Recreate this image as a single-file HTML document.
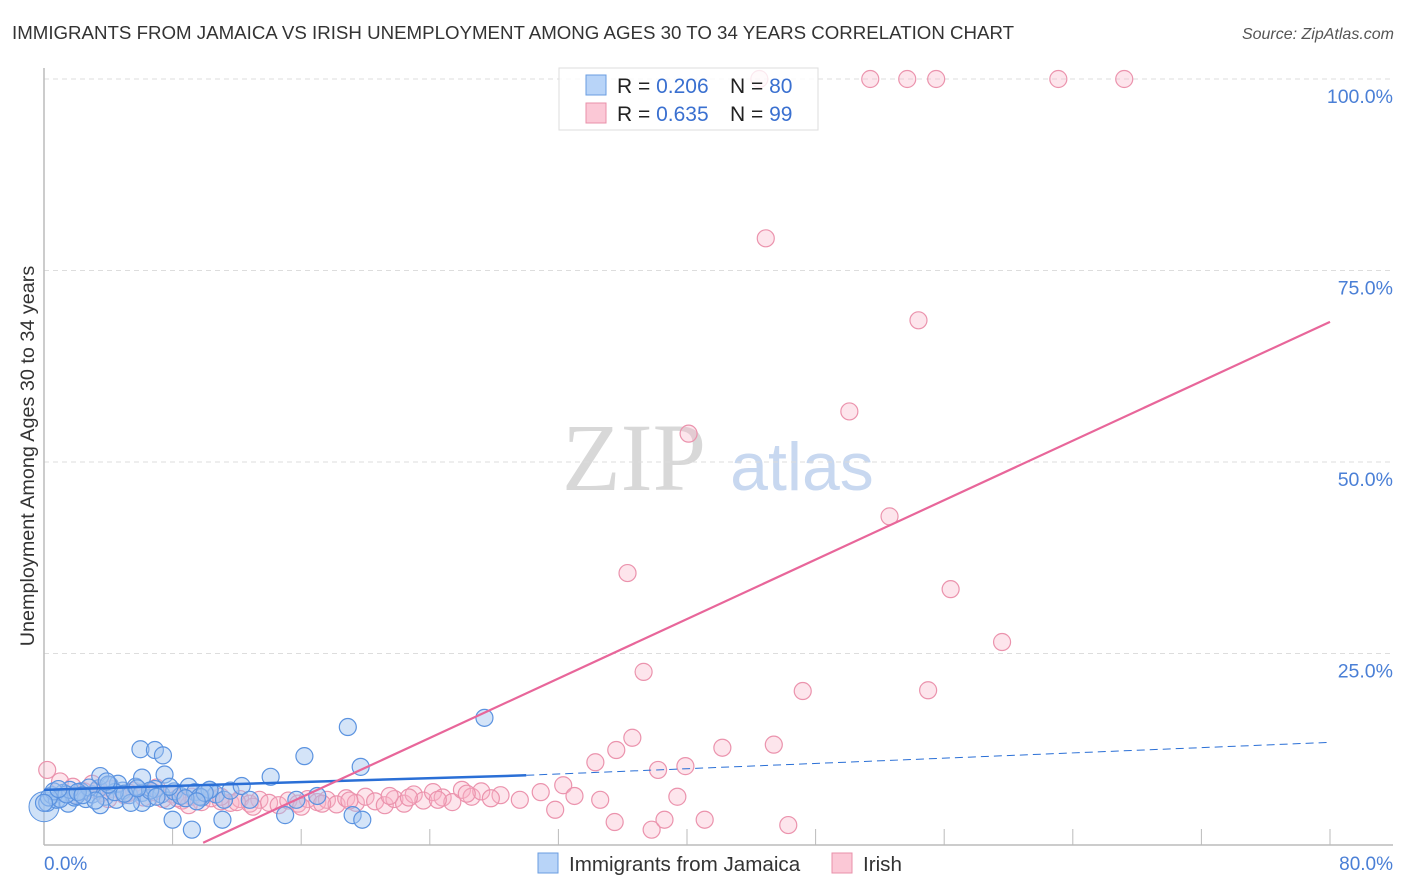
<!DOCTYPE html>
<html><head><meta charset="utf-8"><style>
body{margin:0;background:#fff;font-family:"Liberation Sans",sans-serif;}
svg{display:block}
</style></head><body>
<svg width="1406" height="892" id="c">
<text x="12" y="39" font-size="18.7" fill="#333">IMMIGRANTS FROM JAMAICA VS IRISH UNEMPLOYMENT AMONG AGES 30 TO 34 YEARS CORRELATION CHART</text>
<text x="1394" y="39" font-size="16" fill="#555" font-style="italic" text-anchor="end">Source: ZipAtlas.com</text>
<text x="634" y="490" font-size="96" fill="#d8d8d8" font-family="Liberation Serif,serif" text-anchor="middle">ZIP</text>
<text x="802" y="490" font-size="68" fill="#c8d8f0" text-anchor="middle">atlas</text>
<text transform="translate(34,456) rotate(-90)" font-size="19.8" fill="#333" text-anchor="middle">Unemployment Among Ages 30 to 34 years</text>
<g id="grid"></g><g id="pts"></g><g id="lines"></g>
<g>
<rect x="559" y="68" width="259" height="62" fill="rgba(255,255,255,0.8)" stroke="#ddd"/>
<rect x="586" y="75" width="20" height="20" fill="#b8d4f8" stroke="#6a9de0"/>
<rect x="586" y="103" width="20" height="20" fill="#fbc8d6" stroke="#e890aa"/>
<text x="617" y="93" font-size="21" fill="#222">R = <tspan fill="#3a70d0">0.206</tspan></text>
<text x="730" y="93" font-size="21" fill="#222">N = <tspan fill="#3a70d0">80</tspan></text>
<text x="617" y="121" font-size="21" fill="#222">R = <tspan fill="#3a70d0">0.635</tspan></text>
<text x="730" y="121" font-size="21" fill="#222">N = <tspan fill="#3a70d0">99</tspan></text>
</g>
<g>
<rect x="538" y="853" width="20" height="20" fill="#b8d4f8" stroke="#6a9de0"/>
<text x="569" y="871" font-size="20.6" fill="#333">Immigrants from Jamaica</text>
<rect x="832" y="853" width="20" height="20" fill="#fbc8d6" stroke="#e890aa"/>
<text x="863" y="871" font-size="20.6" fill="#333">Irish</text>
</g>
<text x="44" y="870" font-size="19" fill="#4a7fd6">0.0%</text>
<text x="1393" y="870" font-size="19" fill="#4a7fd6" text-anchor="end">80.0%</text>
</svg>
<script>
const yTicks=[100,75,50,25];
const yTickLabels=["100.0%","75.0%","50.0%","25.0%"];
const xTicks=[8,16,24,32,40,48,56,64,72,80];
const jamX=[0.2,0.5,0.8,1.2,1.5,1.9,2.3,2.6,3,3.4,3.8,4.1,4.5,4.9,5.3,5.7,6.1,6.5,6.9,7.3,7.7,8.1,8.5,9,9.4,9.8,10.3,10.7,11.2,11.6,3.5,6.1,4.6,7.5,6,6.9,7.4,18.9,27.4,16.2,19.7,14.1,12.3,10.3,7.8,6.1,8,9.2,11.1,15,19.2,19.8,15.7,17,9.7,12.8,3.5,5.4,4.4,1,2,0.6,2.8,1.6,4,5,8.8,10,0.3,1.4,3.2,2.1,6.6,7,9.5,0.9,2.4,5.8,3.9,0];
const jamY=[5.5,6.5,5.9,6.8,5.4,6.2,7,6,6.6,7.4,6.3,7.8,5.9,7.1,6.5,7.6,6.8,6.1,7.3,6.6,5.8,7,6.4,7.6,6.9,6.2,7.2,6.6,5.9,7.1,9,8.8,8,9.2,12.5,12.4,11.7,15.4,16.6,11.6,10.2,8.9,7.7,7.2,7.6,5.5,3.3,2,3.3,3.9,3.9,3.3,5.9,6.4,6.3,5.9,5.2,5.5,6.9,6,6.4,7,7.5,7.2,7.9,6.7,6.1,6.8,6.2,6.6,5.8,6.9,7.1,6.3,5.7,7.3,6.5,7.4,8.3,5.5];
const irX=[44.5,51.4,53.7,55.5,63.1,67.2,44.9,54.4,50.1,40.1,52.6,36.3,56.4,59.6,37.3,47.2,55,36.6,42.2,45.4,35.6,34.3,39.9,38.2,39.4,35.5,37.8,38.6,41.1,46.3,32.3,30.9,33,34.6,29.6,28.4,31.8,0.2,1,1.8,2.5,3,3.6,4.2,5,5.6,6.2,6.8,7.4,8,8.6,9.2,9.8,10.4,11,11.6,12.2,12.8,13.4,14,14.6,15.2,15.8,16.4,17,17.6,18.2,18.8,19.4,20,20.6,21.2,21.8,22.4,23,23.6,24.2,24.8,25.4,26,26.6,27.2,27.8,13,9,4,7,2,11,16,19,21.5,24.5,26.3,12,8.3,5.3,3.3,17.3,22.7];
const irY=[100,100,100,100,100,100,79.2,68.5,56.6,53.7,42.9,35.5,33.4,26.5,22.6,20.1,20.2,14,12.7,13.1,12.4,10.8,10.3,9.8,6.3,3,2,3.3,3.3,2.6,7.8,6.9,6.4,5.9,5.9,6.5,4.6,9.8,8.3,7.6,7,8,6.8,7.3,6.5,7.1,6.2,6.9,6,6.6,5.8,6.3,5.6,6.1,5.7,5.5,6,5.4,5.9,5.5,5.2,5.8,5.4,6,5.6,5.9,5.3,6.1,5.5,6.3,5.7,5.2,6,5.4,6.6,5.8,6.9,6.2,5.6,7.2,6.3,7,6.1,5,5.2,6,7.5,6.5,6.3,5,5.8,6.4,5.9,6.7,5.6,6.1,6.8,7.1,5.4,6.2];
const jamTrend=[7.2,9.1,13.4]; // y at x=0,30,80
const irTrend=[9.9,0.3,80,68.3];
const X0=44,X1=1330,Y0=845,Y100=79;
const sx=v=>X0+(v/80)*(X1-X0), sy=v=>Y0-(v/100)*(Y0-Y100);
const NS="http://www.w3.org/2000/svg";
function mk(t,a,p){const e=document.createElementNS(NS,t);for(const k in a)e.setAttribute(k,a[k]);p.appendChild(e);return e;}
const grid=document.getElementById('grid'),pts=document.getElementById('pts'),lines=document.getElementById('lines');
yTicks.forEach((t,i)=>{
 const l=mk('line',{x1:X0,x2:1393,y1:sy(t),y2:sy(t),stroke:'#ddd','stroke-dasharray':'5,4'},grid);
 
 
 const tx=mk('text',{x:1393,y:sy(t)+24,'font-size':19.5,fill:'#4a7fd6','text-anchor':'end'},grid);
 tx.textContent=yTickLabels[i];
 
 
});
const ax=mk('line',{x1:X0,x2:1393,y1:Y0,y2:Y0,stroke:'#bbb','stroke-width':1.5},grid);


const ay=mk('line',{x1:X0,x2:X0,y1:68,y2:Y0,stroke:'#bbb','stroke-width':1.5},grid);


xTicks.forEach(t=>{
 const l=mk('line',{x1:sx(t),x2:sx(t),y1:Y0,y2:Y0-16,stroke:'#bbb'},grid);
 
 
});
const big=mk('circle',{cx:sx(0),cy:sy(5),r:15,fill:'rgba(160,196,240,0.5)',stroke:'#5b93e0'},pts);


irX.forEach((x,i)=>{
 const c=mk('circle',{cx:sx(x),cy:sy(irY[i]),r:8.5,fill:'rgba(248,180,200,0.35)',stroke:'#eb93ad','stroke-width':1.2},pts);
 
 
});
jamX.forEach((x,i)=>{
 const c=mk('circle',{cx:sx(x),cy:sy(jamY[i]),r:8.5,fill:'rgba(160,196,240,0.45)',stroke:'#5b93e0','stroke-width':1.2},pts);
 
 
});
const bl=mk('line',{x1:sx(0),y1:sy(jamTrend[0]),x2:sx(30),y2:sy(jamTrend[1]),stroke:'#2a6fd6','stroke-width':2.5},lines);


const bd=mk('line',{x1:sx(30),y1:sy(jamTrend[1]),x2:sx(80),y2:sy(jamTrend[2]),stroke:'#2a6fd6','stroke-width':1,'stroke-dasharray':'8,5'},lines);


const pl=mk('line',{x1:sx(irTrend[0]),y1:sy(irTrend[1]),x2:sx(irTrend[2]),y2:sy(irTrend[3]),stroke:'#e8669a','stroke-width':2.2},lines);


</script>
</body></html>
